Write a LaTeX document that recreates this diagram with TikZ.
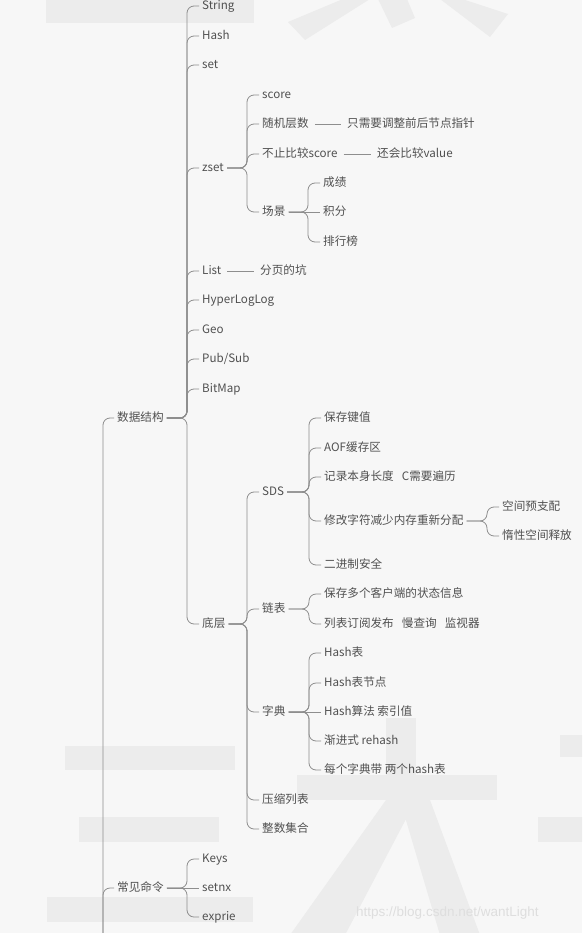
\documentclass[tikz,border=0pt]{standalone}
\usepackage{fontspec}
\setmainfont{Noto Sans CJK SC}
\newfontfamily\wmfont{Liberation Sans}
\usetikzlibrary{calc}
\definecolor{bg}{HTML}{F7F7F7}
\definecolor{wm}{HTML}{ECECEC}
\definecolor{wmtxt}{HTML}{DEDEDE}
\definecolor{txt}{HTML}{505050}
\definecolor{ln}{HTML}{8E8E8E}
\tikzset{
  mm/.style={anchor=west, inner xsep=3pt, inner ysep=0pt, text height=0.88em, text depth=0.12em,
    font=\fontsize{11.6}{13}\selectfont, text=txt},
  conn/.style={draw=ln, line width=0.8pt, rounded corners=7pt},
}
\newcommand{\br}[2]{\draw[conn] (#1.east) -- ($(#2.west |- #1.east)+(-12pt,0pt)$) |- (#2.west);}
\newcommand{\st}[2]{\draw[conn] (#1.east) -- (#2.west);}
\newcommand{\sg}[2]{\draw[conn, shorten <=3pt, shorten >=3pt] (#1.east) -- (#2.west);}
\begin{document}
\begin{tikzpicture}[x=1pt,y=-1pt]
\fill[bg] (0,0) rectangle (582,933);
\useasboundingbox (0,0) rectangle (582,933);
\clip (0,0) rectangle (582,933);
% watermark
\fill[wm] (46,-2) rectangle (254,23);
\fill[wm] (288,22) -- (305,40) -- (370,-1) -- (343,-1) -- cycle;
\fill[wm] (378,-1) -- (392,28) -- (415,18) -- (407,-1) -- cycle;
\fill[wm] (440,-1) -- (462,-1) -- (508,14) -- (490,37) -- cycle;
\fill[wm] (65,746) rectangle (235,770);
\fill[wm] (79,817) rectangle (219,842);
\fill[wm] (47,897) rectangle (253,922);
\fill[wm] (297,775) rectangle (497,800);
\fill[wm] (386,718) rectangle (416,800);
\fill[wm] (386,800) -- (416,800) -- (345,935) -- (290,935) -- cycle;
\fill[wm] (400,800) -- (430,800) -- (480,935) -- (440,935) -- cycle;
\fill[wm] (560,735) rectangle (583,757);
\fill[wm] (538,817) rectangle (583,842);
\node[anchor=west, inner sep=0pt, font=\wmfont\fontsize{13.5}{14}\selectfont, text=wmtxt] (csdn) at (356,913) {https://blog.csdn.net/wantLight};
% level 1
\coordinate (rootb) at (103,1000);
\node[mm] (ds) at (114,418) {数据结构};
\node[mm] (cmd) at (114,888) {常见命令};
% data structures
\node[mm] (string) at (199,6) {String};
\node[mm] (hash) at (199,36) {Hash};
\node[mm] (set) at (199,65) {set};
\node[mm] (zset) at (199,168) {zset};
\node[mm] (list) at (199,271) {List};
\node[mm] (hll) at (199,300) {HyperLogLog};
\node[mm] (geo) at (199,330) {Geo};
\node[mm] (pubsub) at (199,359) {Pub/Sub};
\node[mm] (bitmap) at (199,389) {BitMap};
\node[mm] (dc) at (199,624) {底层};
% zset
\node[mm] (score) at (259,95) {score};
\node[mm] (rand) at (259,124) {随机层数};
\node[mm] (notonly) at (259,154) {不止比较score};
\node[mm] (scene) at (259,212) {场景};
\node[mm] (ptr) at (344,124) {只需要调整前后节点指针};
\node[mm] (value) at (374,154) {还会比较value};
\node[mm] (cj) at (320,183) {成绩};
\node[mm] (jf) at (320,212) {积分};
\node[mm] (phb) at (320,242) {排行榜};
\node[mm] (page) at (257,271) {分页的坑};
% bottom layer
\node[mm] (sds) at (259,492) {SDS};
\node[mm] (lb) at (259,609) {链表};
\node[mm] (zd) at (259,712) {字典};
\node[mm] (ys) at (259,800) {压缩列表};
\node[mm] (zs) at (259,829) {整数集合};
\node[mm] (s1) at (321,418) {保存键值};
\node[mm] (s2) at (321,448) {AOF缓存区};
\node[mm] (s3) at (321,477) {记录本身长度\hspace{0.7em}C需要遍历};
\node[mm] (s4) at (321,521) {修改字符减少内存重新分配};
\node[mm] (s5) at (321,565) {二进制安全};
\node[mm] (s41) at (499,507) {空间预支配};
\node[mm] (s42) at (499,536) {惰性空间释放};
\node[mm] (l1) at (321,594) {保存多个客户端的状态信息};
\node[mm] (l2) at (321,624) {列表订阅发布\hspace{0.7em}慢查询\hspace{0.7em}监视器};
\node[mm] (d1) at (321,653) {Hash表};
\node[mm] (d2) at (321,683) {Hash表节点};
\node[mm] (d3) at (321,712) {Hash算法 索引值};
\node[mm] (d4) at (321,741) {渐进式 rehash};
\node[mm] (d5) at (321,770) {每个字典带 两个hash表};
% commands
\node[mm] (keys) at (199,859) {Keys};
\node[mm] (setnx) at (199,888) {setnx};
\node[mm] (exprie) at (199,917) {exprie};
% connectors
\draw[conn] (rootb) |- (ds.west);
\draw[conn] (rootb) |- (cmd.west);
\foreach \c in {string,hash,set,zset,list,hll,geo,pubsub,bitmap,dc} {\br{ds}{\c}}
\foreach \c in {score,rand,notonly,scene} {\br{zset}{\c}}
\sg{rand}{ptr}
\sg{notonly}{value}
\foreach \c in {cj,phb} {\br{scene}{\c}}
\st{scene}{jf}
\sg{list}{page}
\foreach \c in {sds,lb,zd,ys,zs} {\br{dc}{\c}}
\foreach \c in {s1,s2,s3,s4,s5} {\br{sds}{\c}}
\foreach \c in {s41,s42} {\br{s4}{\c}}
\foreach \c in {l1,l2} {\br{lb}{\c}}
\foreach \c in {d1,d2,d4,d5} {\br{zd}{\c}}
\st{zd}{d3}
\foreach \c in {keys,exprie} {\br{cmd}{\c}}
\st{cmd}{setnx}
\end{tikzpicture}
\end{document}
